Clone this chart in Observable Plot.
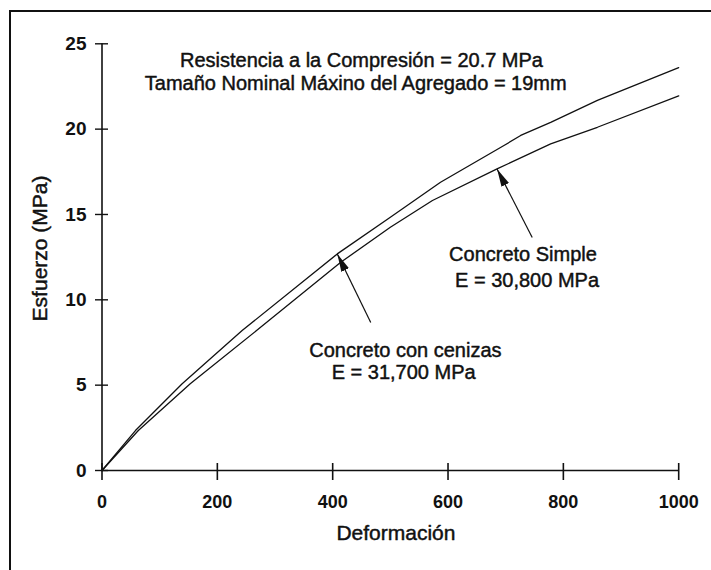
<!DOCTYPE html>
<html>
<head>
<meta charset="utf-8">
<script src="https://cdn.jsdelivr.net/npm/d3@7"></script>
<script src="https://cdn.jsdelivr.net/npm/@observablehq/plot@0.6"></script>
<style>
  html, body { margin: 0; padding: 0; background: #fff; }
  #wrap { position: relative; width: 711px; height: 570px; overflow: hidden; }
  #box { position: absolute; left: 9px; top: 10px; width: 720px; height: 600px;
         border-left: 2px solid #111; border-top: 2px solid #111; pointer-events: none; }
  svg { display: block; }
</style>
</head>
<body>
<div id="wrap"><div id="box"></div></div>
<script>
// Stress–strain curves: plain concrete vs. concrete with fly ash
const strain = {
  cenizas: [0, 58, 139, 243, 408, 500, 587, 697, 726, 778, 859, 1000],
  simple:  [0, 63, 153, 268, 414, 500, 573, 685, 778, 859, 1000]
};
const stress = {
  cenizas: [0, 2.34, 5.08, 8.20, 12.69, 14.84, 16.89, 19.04, 19.63, 20.40, 21.69, 23.6],
  simple:  [0, 2.34, 5.08, 8.20, 12.20, 14.25, 15.82, 17.67, 19.14, 20.11, 21.95]
};
const seriesNames = ["cenizas", "simple"];

const xTicks = [0, 200, 400, 600, 800, 1000];
const yTicks = [0, 5, 10, 15, 20, 25];
const xTitle = "Deformación";
const yTitle = "Esfuerzo (MPa)";

// Annotation text and its anchor in data units
const noteText = [
  "Resistencia a la Compresión = 20.7 MPa",
  "Tamaño Nominal Máxino del Agregado = 19mm",
  "Concreto Simple",
  "E = 30,800 MPa",
  "Concreto con cenizas",
  "E = 31,700 MPa"
];
const noteX = [450, 440, 730, 737, 526, 523];
const noteY = [23.64, 22.30, 12.30, 10.74, 6.64, 5.37];

// Leader arrows: tail (label side) to tip (on the curve)
const arrowX1 = [746, 466];
const arrowY1 = [13.65, 8.67];
const arrowX2 = [685, 408];
const arrowY2 = [17.67, 12.69];

const points = seriesNames.flatMap(s =>
  strain[s].map((x, i) => ({series: s, x, y: stress[s][i]})));
const notes = noteText.map((t, i) => ({t, x: noteX[i], y: noteY[i]}));
const arrows = arrowX1.map((x1, i) => ({x1, y1: arrowY1[i], x2: arrowX2[i], y2: arrowY2[i]}));

// Solid triangular arrowhead
function filledHead(color, context) {
  const doc = (context && context.document) || document;
  const ns = "http://www.w3.org/2000/svg";
  const m = doc.createElementNS(ns, "marker");
  m.setAttribute("viewBox", "-18 -4.5 18 9");
  m.setAttribute("markerWidth", 18);
  m.setAttribute("markerHeight", 9);
  m.setAttribute("markerUnits", "userSpaceOnUse");
  m.setAttribute("orient", "auto");
  m.setAttribute("refX", 0);
  m.setAttribute("refY", 0);
  const p = doc.createElementNS(ns, "path");
  p.setAttribute("d", "M0,0L-18,-4.2L-18,4.2Z");
  p.setAttribute("fill", color || "black");
  p.setAttribute("stroke", "none");
  m.appendChild(p);
  return m;
}

const font = "Liberation Sans, Arial, Helvetica, sans-serif";
const ink = "#111";

const chart = Plot.plot({
  width: 711,
  height: 570,
  marginLeft: 101.5,
  marginRight: 32.8,
  marginTop: 43.3,
  marginBottom: 100,
  style: {fontFamily: font, background: "transparent", overflow: "visible"},
  x: {domain: [0, 1000], axis: null},
  y: {domain: [0, 25], axis: null},
  marks: [
    // axes
    Plot.ruleY([0], {x1: 0, x2: 1000, stroke: ink, strokeWidth: 1.6}),
    Plot.ruleX([0], {y1: 0, y2: 25, stroke: ink, strokeWidth: 1.6}),
    Plot.ruleX(xTicks, {x: d => d, y1: 0, y2: 0, insetTop: -7, insetBottom: -10, stroke: ink, strokeWidth: 1.6}),
    Plot.ruleY(yTicks, {y: d => d, x1: 0, x2: 0, insetLeft: -6.5, insetRight: -6.5, stroke: ink, strokeWidth: 1.4}),
    Plot.text(xTicks, {x: d => d, y: 0, text: d => String(d), dy: 37, lineAnchor: "bottom",
      fontSize: 18, fontWeight: "bold", fill: ink}),
    Plot.text(yTicks, {x: 0, y: d => d, text: d => String(d), dx: -15.5, textAnchor: "end",
      lineAnchor: "middle", fontSize: 19, fontWeight: "bold", fill: ink}),
    Plot.text([xTitle], {frameAnchor: "bottom", text: d => d, dx: 5.6, dy: 69.3, lineAnchor: "bottom",
      fontSize: 21, fill: ink, stroke: ink, strokeWidth: 0.45}),
    Plot.text([yTitle], {frameAnchor: "left", text: d => d, rotate: -90, textAnchor: "middle",
      dx: -54.8, dy: -8.7, lineAnchor: "bottom", fontSize: 21, fill: ink, stroke: ink, strokeWidth: 0.45}),
    // curves
    Plot.line(points, {x: "x", y: "y", z: "series", stroke: ink, strokeWidth: 1.3}),
    // leader arrows
    Plot.link(arrows, {x1: "x1", y1: "y1", x2: "x2", y2: "y2", stroke: ink, strokeWidth: 1.2,
      markerEnd: filledHead}),
    // annotations
    Plot.text(notes, {x: "x", y: "y", text: "t", textAnchor: "middle", lineAnchor: "bottom",
      fontSize: 20, fill: ink, stroke: ink, strokeWidth: 0.45})
  ]
});

document.getElementById("wrap").prepend(chart);
</script>
</body>
</html>
